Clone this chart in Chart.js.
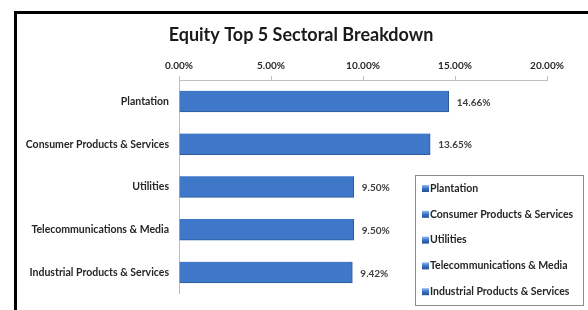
<!DOCTYPE html>
<html>
<head>
<meta charset="utf-8">
<script src="https://cdn.jsdelivr.net/npm/chart.js@4/dist/chart.umd.min.js"></script>
<style>
  html, body { margin: 0; padding: 0; background: #fff; overflow: hidden; }
  #wrap { position: relative; width: 588px; height: 310px; }
  #frame { position: absolute; left: 14px; top: 11px; width: 620px; height: 340px; border: 3px solid #000; box-sizing: border-box; pointer-events: none; }
  canvas { position: absolute; left: 0; top: 0; }
</style>
</head>
<body>
<div id="wrap">
  <canvas id="c" width="588" height="310"></canvas>
  <div id="frame"></div>
</div>
<script>
const titleText = 'Equity Top 5 Sectoral Breakdown';
const categories = ['Plantation', 'Consumer Products & Services', 'Utilities', 'Telecommunications & Media', 'Industrial Products & Services'];
const values = [14.66, 13.65, 9.50, 9.50, 9.42];
const axisMin = 0, axisMax = 20, axisStep = 5;

const FONT = 'Lato, "Open Sans", sans-serif';

function barGradient(ctx) {
  const chart = ctx.chart;
  const el = ctx.element;
  if (!el || el.y === undefined) return '#3f78c8';
  const h = el.height || 21;
  const top = el.y - h / 2, bot = el.y + h / 2;
  const g = chart.ctx.createLinearGradient(0, top, 0, bot);
  g.addColorStop(0, '#8dbcf0');
  g.addColorStop(0.25, '#4f8ad8');
  g.addColorStop(0.7, '#3a72c4');
  g.addColorStop(1, '#24518f');
  return g;
}

const chartTitle = {
  id: 'chartTitle',
  afterDraw(chart) {
    const ctx = chart.ctx;
    ctx.save();
    ctx.font = 'bold 18px ' + FONT;
    ctx.fillStyle = '#1a1a1a';
    ctx.textAlign = 'center';
    ctx.textBaseline = 'middle';
    ctx.fillText(titleText, 301, 35);
    ctx.restore();
  }
};

const valueLabels = {
  id: 'valueLabels',
  afterDatasetsDraw(chart) {
    const ctx = chart.ctx;
    const meta = chart.getDatasetMeta(0);
    ctx.save();
    ctx.font = 'bold 10px ' + FONT;
    ctx.fillStyle = '#404040';
    ctx.textAlign = 'left';
    ctx.textBaseline = 'middle';
    meta.data.forEach((bar, i) => {
      ctx.fillText(values[i].toFixed(2) + '%', bar.x + 8, bar.y + 1);
    });
    ctx.restore();
  }
};

const boxLegend = {
  id: 'boxLegend',
  afterDraw(chart) {
    const ctx = chart.ctx;
    const x = 415, y = 175, w = 168, h = 130;
    ctx.save();
    ctx.fillStyle = '#fff';
    ctx.fillRect(x, y, w, h);
    ctx.strokeStyle = '#8c8c8c';
    ctx.lineWidth = 1;
    ctx.strokeRect(x + 0.5, y + 0.5, w, h);
    ctx.font = 'bold 10.5px ' + FONT;
    ctx.textBaseline = 'middle';
    ctx.textAlign = 'left';
    categories.forEach((c, i) => {
      const cy = y + 13 + i * 25.8;
      const g = ctx.createLinearGradient(0, cy - 3, 0, cy + 4);
      g.addColorStop(0, '#8dbcf0');
      g.addColorStop(0.5, '#3a72c4');
      g.addColorStop(1, '#24518f');
      ctx.fillStyle = g;
      ctx.fillRect(x + 7, cy - 3, 7, 7);
      ctx.fillStyle = '#262626';
      ctx.fillText(c, x + 15, cy + 0.5);
    });
    ctx.restore();
  }
};

new Chart(document.getElementById('c'), {
  type: 'bar',
  data: {
    labels: categories,
    datasets: [{
      data: values,
      backgroundColor: barGradient,
      borderColor: '#2c5a9a',
      borderWidth: { top: 0, left: 0, right: 1, bottom: 1 },
      barThickness: 21
    }]
  },
  plugins: [chartTitle, valueLabels, boxLegend],
  options: {
    indexAxis: 'y',
    responsive: false,
    animation: false,
    devicePixelRatio: 1,
    layout: { padding: { left: 0, right: 41, top: 56, bottom: 15 } },
    plugins: {
      legend: { display: false },
      tooltip: { enabled: false },
      title: { display: false }
    },
    scales: {
      x: {
        position: 'top',
        min: axisMin,
        max: axisMax,
        afterFit(scale) { scale.height = 24; },
        ticks: {
          stepSize: axisStep,
          padding: 4,
          color: '#262626',
          font: { family: FONT, size: 10, weight: 'bold' },
          callback: v => Number(v).toFixed(2) + '%'
        },
        grid: { drawOnChartArea: false, drawTicks: true, tickLength: 4, color: '#bfbfbf' },
        border: { color: '#bfbfbf' }
      },
      y: {
        afterFit(scale) { scale.width = 179; },
        ticks: {
          padding: 10,
          color: '#262626',
          font: { family: FONT, size: 10.5, weight: 'bold' }
        },
        grid: { display: false, drawTicks: false },
        border: { color: '#bfbfbf' }
      }
    }
  }
});
</script>
</body>
</html>
